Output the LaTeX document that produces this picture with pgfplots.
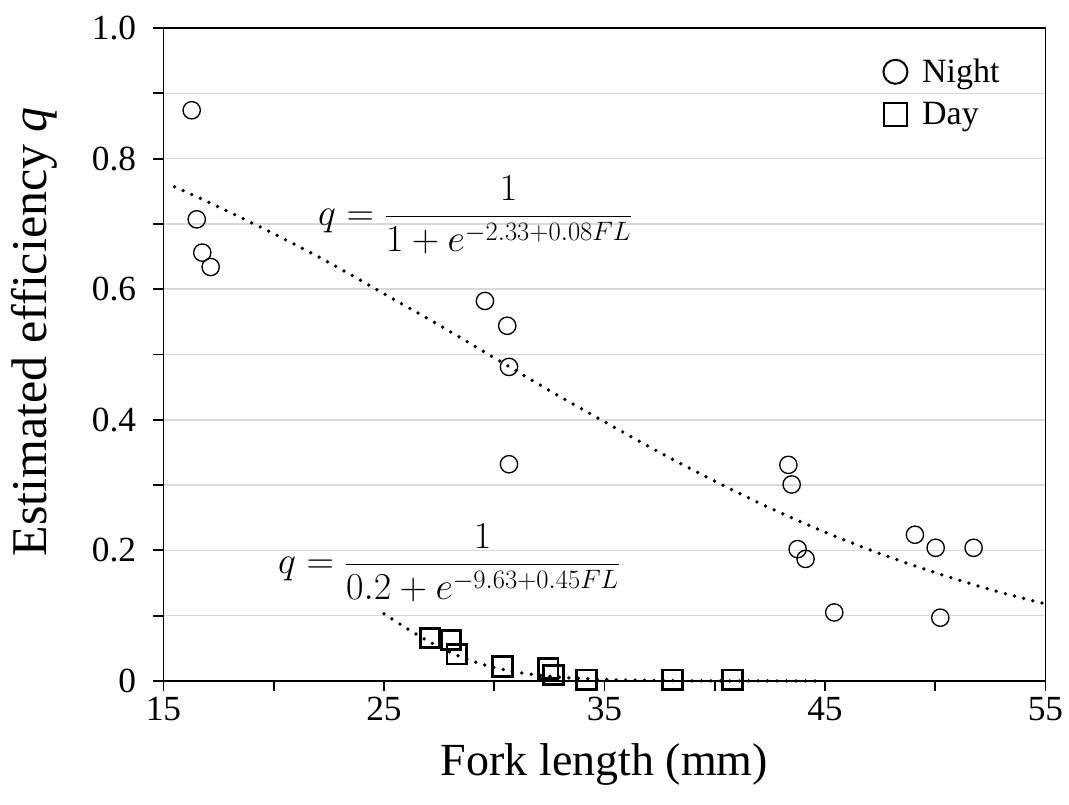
\RequirePackage{fix-cm}
\documentclass[border=0pt]{standalone}
\usepackage{amsmath}
\usepackage{fontspec}
\setmainfont{Liberation Serif}
\usepackage{pgfplots}
\pgfplotsset{compat=1.18}

\definecolor{gridgray}{RGB}{217,217,217}

\begin{document}
\begin{tikzpicture}
\path[use as bounding box] (0,0) rectangle (801.75pt,603pt);
\begin{axis}[
  at={(122.6pt,92.25pt)}, anchor=south west,
  width=661.5pt, height=489.75pt, scale only axis,
  xmin=15, xmax=55, ymin=0, ymax=1,
  xtick={15,25,35,45,55}, xticklabels={15,25,35,45,55},
  minor xtick={20,30,40,50},
  ytick={0,0.2,0.4,0.6,0.8,1}, yticklabels={0,0.2,0.4,0.6,0.8,1.0},
  minor ytick={0.1,0.3,0.5,0.7,0.9},
  xtick pos=bottom, ytick pos=left,
  tick align=outside, major tick length=7.5pt, minor tick length=7.5pt,
  every tick/.style={black, line width=1.4pt},
  ymajorgrids, yminorgrids,
  major grid style={draw=gridgray, line width=1.1pt},
  minor grid style={draw=gridgray, line width=1.1pt},
  axis line style={line width=1.4pt},
  ticklabel style={font=\fontsize{26.5}{30}\selectfont},
  yticklabel style={xshift=-9.5pt},
  xticklabel style={yshift=-1pt},
  xlabel={Fork length (mm)},
  ylabel={Estimated efficiency \textit{q}},
  xlabel style={font=\fontsize{34.5}{40}\selectfont, at={(axis description cs:0.5,0)}, anchor=center, yshift=-62.25pt},
  ylabel style={font=\fontsize{37.5}{42}\selectfont, at={(axis description cs:-0.1463,0.535)}, anchor=center},
  legend style={at={(rel axis cs:0.816,0.955)}, anchor=north west, draw=none, fill=none,
    font=\fontsize{25.5}{30}\selectfont, inner sep=0pt, row sep=11pt, column sep=10pt,
    nodes={inner sep=1pt}, legend cell align=left},
  clip=false,
]

% fitted curves (dotted)
\addplot[forget plot, line width=2.8pt, line cap=round, dash pattern=on 0pt off 7.1pt, smooth]
  coordinates {
  (15.5,0.757) (17.5,0.726) (20,0.685) (22.5,0.641) (25,0.593) (27.5,0.545)
  (30,0.495) (32.5,0.445) (35,0.397) (37.5,0.350) (40,0.306) (42.5,0.265)
  (45,0.228) (47.5,0.195) (50,0.166) (52.5,0.140) (55,0.118)
  };
\addplot[forget plot, line width=2.8pt, line cap=round, dash pattern=on 0pt off 7.1pt, smooth]
  coordinates {
  (25,0.1030) (25.5,0.0921) (26,0.0813) (26.5,0.0709) (27,0.0611) (27.5,0.0521)
  (28,0.0440) (28.5,0.0368) (29,0.0305) (29.5,0.0252) (30,0.0207) (31,0.0137)
  (32,0.0090) (33,0.0058) (34,0.0037) (35,0.0024) (36,0.0015) (38,0.0006)
  (40,0.0002) (42,0.0001) (44.8,0.0000)
  };

% night observations
\addplot[forget plot, only marks, mark=o, mark size=6.5pt, mark options={line width=1.0pt}]
  coordinates {
  (16.28,0.874) (16.51,0.707) (16.76,0.656) (17.14,0.634)
  (29.58,0.582) (30.59,0.544) (30.67,0.481) (30.67,0.332)
  (43.34,0.331) (43.49,0.301) (43.76,0.202) (44.12,0.187) (45.42,0.105)
  (49.08,0.224) (50.02,0.204) (50.23,0.097) (51.74,0.204)
  };

% day observations
\addplot[forget plot, only marks, mark=square, mark size=7.3pt, mark options={line width=2.2pt}]
  coordinates {
  (27.09,0.066) (28.03,0.063) (28.30,0.041) (30.38,0.022) (32.45,0.019)
  (32.68,0.009) (34.19,0.002) (38.09,0.002) (40.81,0.002)
  };

\addlegendimage{only marks, mark=o, mark size=9pt, mark options={line width=1.5pt}}
\addlegendentry{Night}
\addlegendimage{only marks, mark=square, mark size=8.6pt, mark options={line width=1.5pt}}
\addlegendentry{Day}

\node[anchor=west, font=\fontsize{28.5}{32}\selectfont, inner sep=0pt]
  at (axis cs:22.0,0.7136) {$\displaystyle q=\frac{1}{1+e^{-2.33+0.08FL}}$};
\node[anchor=west, font=\fontsize{28.5}{32}\selectfont, inner sep=0pt]
  at (axis cs:20.19,0.1807) {$\displaystyle q=\frac{1}{0.2+e^{-9.63+0.45FL}}$};

\end{axis}
\end{tikzpicture}
\end{document}
